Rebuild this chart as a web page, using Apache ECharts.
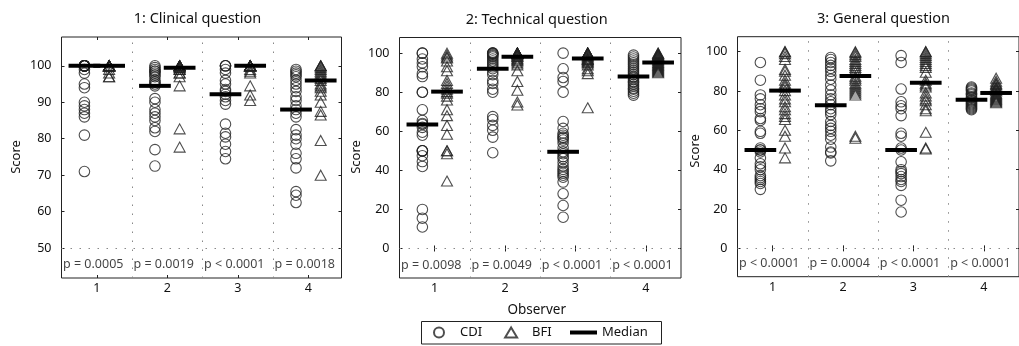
<!DOCTYPE html>
<html><head><meta charset="utf-8">
<script src="https://cdn.jsdelivr.net/npm/echarts@6/dist/echarts.min.js"></script>
<style>html,body{margin:0;padding:0;background:#fff}#c{width:1019px;height:346px}</style>
</head><body><div id="c"></div>
<script>
// ---------- data ----------
const observers = [1, 2, 3, 4];
const panelTitles = ['1: Clinical question', '2: Technical question', '3: General question'];
const yTicksClinical = [50, 60, 70, 80, 90, 100];
const yTicksTechnical = [0, 20, 40, 60, 80, 100];
const yTicksGeneral = [0, 20, 40, 60, 80, 100];

const cdiClinical = [
  [100,100,100,100,100,100,100,100,100,100,100,100,99,98,95,94,90,89,88,87,86,81,71],
  [100,99.5,99,98.5,98.5,98,97.5,97,96,95.5,95,94.5,91,90,88,87,86,85,83,82,77,72.5],
  [100,100,100,99,98,96,95,93.5,93,92.2,91.5,90.5,89.5,84,81.5,80.5,78.5,76.5,74.5],
  [99,98.5,98,97.5,97,96,95,94,93,91.5,90.5,89,88,87,86,82.5,81,80,78.5,76,74.5,72,65.5,64.5,62.5]
];
const bfiClinical = [
  [100,100,100,100,100,100,100,100,100,100,100,100,100,100,99,98,97,97],
  [100,100,100,100,100,100,100,100,99.5,99.5,99,99,98,98,97,94.5,82.7,77.7],
  [100,100,100,100,100,100,100,100,100,100,100,100,99,98.5,98,94.5,92,90.5],
  [100,100,100,99.5,99,98.5,98,97.5,97,96.5,96,95,94.5,94,93,92,90,87.5,86.5,79.5,70]
];
const cdiTechnical = [
  [100,100,97,95,93,89.5,88,80,80,71,65.5,64,63.5,62,59.5,58,50,50,50,47.5,44.5,42,20,15.5,11],
  [100,100,100,99.5,99,98.5,98,97,96,95,94,93,92,90.5,89,86,84.5,81.5,80,67.5,66,63,60.5,57,49],
  [100,92,87.5,85.5,80,65,61.5,59,58,57,56.5,55.5,54,51.5,49.5,48.5,47,46,44,42,40.5,39.5,38.5,37.5,36.5,34,28,22,16],
  [99,98,97,96,95,94,93,92,91,90,89,88,87.5,86.5,85.5,85,84,83,82,81.5,80.5,79.5,78.5]
];
const bfiTechnical = [
  [100,99,98,97.5,96,93,91,86,84.5,83,81.5,80.3,79.5,78,76,71,68,63,58.5,50,50,48.5,34.5],
  [100,100,100,100,100,100,100,100,99.5,99,98.5,98.3,97.5,97,96.5,96,95,94,91,85.5,81,75,73.5],
  [100,100,100,100,100,100,100,99.5,99,98.5,98,97.4,97,96.8,96.5,96,95.5,95,94,92,91,89.5,72],
  [100,100,99.5,99,99,98.5,98,97.5,97,96.5,96,95.3,95,94.5,94,93.5,93,92.5,92,91.5,91,90.5,90]
];
const cdiGeneral = [
  [94.5,85.5,78,76,73,71,69.5,66,65,59.5,58.5,51,50,50,49,46,43,41.5,40,37,36,35,34,33,30],
  [97,96,94.5,93,91.5,90,88,86,83,80.5,78,76,74.5,73,71,69.5,68,64.5,62.5,61,59.5,57.5,55.5,51.5,49,48.5,44.5],
  [98,94.5,81,74.5,72.5,71,67.5,58.5,57,51,50,44,40,39,38,36.5,35,34,32,24.5,18.5],
  [82,81.5,81,80.5,80,79,78.5,78,77,76.5,75.5,75,74.5,74,73.5,73,72.5,72,71.5,71,70.5]
];
const bfiGeneral = [
  [100,100,99,97.5,96,91,90,88,85.5,84,83,82,80.2,78,76,74.5,72,70.5,68.5,67,65.5,60,57,51,46],
  [100,99.5,98.5,97.5,96,95,94,93,92,91,89.5,87.5,86.5,85.5,84,83,82,81,80,79,78,57,56],
  [100,100,99,98,97,96,95,94,93,92,89.5,85.5,84,83,82,79,77.5,76,75,73,71,70,59,51,50.5],
  [86.5,85,84,83.5,83,82,81.5,81,80.5,80,79,78.5,78,77.5,77,76.5,76,75.5,75,74.5,74]
];
const medCdiClinical = [100, 94.5, 92.2, 88];
const medBfiClinical = [100, 99.5, 100, 96];
const medCdiTechnical = [63.5, 92, 49.5, 88];
const medBfiTechnical = [80.3, 98.2, 97.3, 95.2];
const medCdiGeneral = [50, 72.8, 50, 75.6];
const medBfiGeneral = [80.2, 87.6, 84.2, 79];
const pClinical = ['p = 0.0005', 'p = 0.0019', 'p < 0.0001', 'p = 0.0018'];
const pTechnical = ['p = 0.0098', 'p = 0.0049', 'p < 0.0001', 'p < 0.0001'];
const pGeneral = ['p < 0.0001', 'p = 0.0004', 'p < 0.0001', 'p < 0.0001'];

// ---------- layout / style ----------
const FONT = '"Noto Sans", "Open Sans", sans-serif';
const TXT = '#111';
const EDGE = '#222';
const panels = [
  {title: panelTitles[0], cdi: cdiClinical, bfi: bfiClinical, mc: medCdiClinical, mb: medBfiClinical, p: pClinical, ticks: yTicksClinical,
   grid: {left: 61.5, top: 37, width: 280, height: 241}, xMax: 4.47, yMin: 41.8, yMax: 107.9, base: 50, pY: 45.4,
   titlePos: [197.5, 19], scorePos: [16, 157]},
  {title: panelTitles[1], cdi: cdiTechnical, bfi: bfiTechnical, mc: medCdiTechnical, mb: medBfiTechnical, p: pTechnical, ticks: yTicksTechnical,
   grid: {left: 399.5, top: 37.5, width: 281.5, height: 240.5}, xMax: 4.5, yMin: -15.1, yMax: 108, base: 0, pY: -8.6,
   titlePos: [536.7, 20], scorePos: [356.5, 157]},
  {title: panelTitles[2], cdi: cdiGeneral, bfi: bfiGeneral, mc: medCdiGeneral, mb: medBfiGeneral, p: pGeneral, ticks: yTicksGeneral,
   grid: {left: 737.5, top: 36.7, width: 283, height: 240}, xMax: 4.5, yMin: -14.4, yMax: 107.6, base: 0, pY: -7.7,
   titlePos: [883.5, 19], scorePos: [695.5, 151]}
];
const CDI_OFF = -0.175, BFI_OFF = 0.175, HALF_BAR = 0.225;

const grids = [], xAxes = [], yAxes = [], series = [], graphics = [];
panels.forEach((pn, i) => {
  grids.push(Object.assign({show: true, borderColor: EDGE, borderWidth: 1, backgroundColor: 'transparent'}, pn.grid));
  const xBase = {type: 'value', gridIndex: i, min: 0.5, max: pn.xMax, splitLine: {show: false}, axisLine: {show: false}};
  xAxes.push(Object.assign({}, xBase, {position: 'bottom',
    axisTick: {show: true, inside: true, length: 3, customValues: observers, lineStyle: {color: EDGE}},
    axisLabel: {show: true, customValues: observers, margin: 4, fontSize: 12.5, fontFamily: FONT, color: TXT}}));
  xAxes.push(Object.assign({}, xBase, {position: 'top',
    axisTick: {show: true, inside: true, length: 3, customValues: observers, lineStyle: {color: EDGE}},
    axisLabel: {show: false}}));
  const yBase = {type: 'value', gridIndex: i, min: pn.yMin, max: pn.yMax, splitLine: {show: false}, axisLine: {show: false}};
  yAxes.push(Object.assign({}, yBase, {position: 'left',
    axisTick: {show: true, inside: true, length: 3, customValues: pn.ticks, lineStyle: {color: EDGE}},
    axisLabel: {show: true, customValues: pn.ticks, margin: 10, fontSize: 12.5, fontFamily: FONT, color: TXT}}));
  yAxes.push(Object.assign({}, yBase, {position: 'right',
    axisTick: {show: true, inside: true, length: 3, customValues: pn.ticks, lineStyle: {color: EDGE}},
    axisLabel: {show: false}}));
  const xi = 2 * i, yi = 2 * i;

  // p-values + dotted separators
  series.push({
    type: 'scatter', name: 'p' + i, xAxisIndex: xi, yAxisIndex: yi, silent: true, symbolSize: 0,
    data: observers.map((o, k) => ({value: [o - 0.5, pn.pY], label: {formatter: pn.p[k]}})),
    label: {show: true, position: 'right', distance: 1.5, fontSize: 12.5, fontFamily: FONT, color: TXT},
    markLine: {silent: true, symbol: ['none', 'none'], label: {show: false},
      lineStyle: {color: '#888', width: 1, type: [1.5, 7.5]},
      data: [{xAxis: 1.5}, {xAxis: 2.5}, {xAxis: 3.5}, {yAxis: pn.base}]},
    z: 1
  });
  // CDI circles
  const cd = [];
  pn.cdi.forEach((arr, k) => arr.forEach(v => cd.push([observers[k] + CDI_OFF, v])));
  series.push({type: 'scatter', name: 'CDI', xAxisIndex: xi, yAxisIndex: yi, symbol: 'circle', symbolSize: 10.5,
    itemStyle: {color: 'rgba(255,255,255,0)', borderColor: EDGE, borderWidth: 1.1}, data: cd, z: 2});
  // BFI triangles
  const bd = [];
  pn.bfi.forEach((arr, k) => arr.forEach(v => bd.push([observers[k] + BFI_OFF, v])));
  series.push({type: 'scatter', name: 'BFI', xAxisIndex: xi, yAxisIndex: yi, symbol: 'triangle', symbolSize: [11, 10],
    itemStyle: {color: 'rgba(255,255,255,0)', borderColor: EDGE, borderWidth: 1.1}, data: bd, z: 3});
  // Medians
  const md = [];
  observers.forEach((o, k) => {
    md.push([o + CDI_OFF - HALF_BAR, o + CDI_OFF + HALF_BAR, pn.mc[k]]);
    md.push([o + BFI_OFF - HALF_BAR, o + BFI_OFF + HALF_BAR, pn.mb[k]]);
  });
  series.push({type: 'custom', name: 'Median', xAxisIndex: xi, yAxisIndex: yi, z: 4,
    itemStyle: {color: '#000'},
    encode: {x: [0, 1], y: 2},
    renderItem: (params, api) => {
      const a = api.coord([api.value(0), api.value(2)]);
      const b = api.coord([api.value(1), api.value(2)]);
      return {type: 'line', shape: {x1: a[0], y1: a[1], x2: b[0], y2: b[1]}, style: {stroke: '#000', lineWidth: 4}};
    },
    data: md});

  graphics.push({type: 'text', x: pn.titlePos[0], y: pn.titlePos[1],
    style: {text: pn.title, align: 'center', verticalAlign: 'middle', font: '14.5px ' + FONT, fill: TXT}});
  graphics.push({type: 'text', x: pn.scorePos[0], y: pn.scorePos[1], rotation: Math.PI / 2,
    style: {text: 'Score', align: 'center', verticalAlign: 'middle', font: '13px ' + FONT, fill: TXT}});
});
graphics.push({type: 'text', x: 536.7, y: 310,
  style: {text: 'Observer', align: 'center', verticalAlign: 'middle', font: '13.5px ' + FONT, fill: TXT}});
graphics.push({type: 'rect', shape: {x: 421.5, y: 321.5, width: 240, height: 22.5},
  style: {fill: 'none', stroke: EDGE, lineWidth: 1}, z: 0});

const chart = echarts.init(document.getElementById('c'), null, {renderer: 'canvas'});
chart.setOption({
  animation: false,
  backgroundColor: '#fff',
  grid: grids, xAxis: xAxes, yAxis: yAxes, series: series,
  graphic: graphics,
  legend: [
    {data: ['CDI', 'BFI'], left: 433, top: 326, padding: 0, itemWidth: 12, itemHeight: 10, itemGap: 22, selectedMode: false,
     textStyle: {fontSize: 13, fontFamily: FONT, color: TXT, padding: [0, 0, 0, 10]}},
    {data: [{name: 'Median', icon: 'rect', itemStyle: {color: '#000'}}], left: 570, top: 326, padding: 0, itemWidth: 27, itemHeight: 4,
     selectedMode: false, textStyle: {fontSize: 13, fontFamily: FONT, color: TXT}}
  ]
});
</script>
</body></html>
